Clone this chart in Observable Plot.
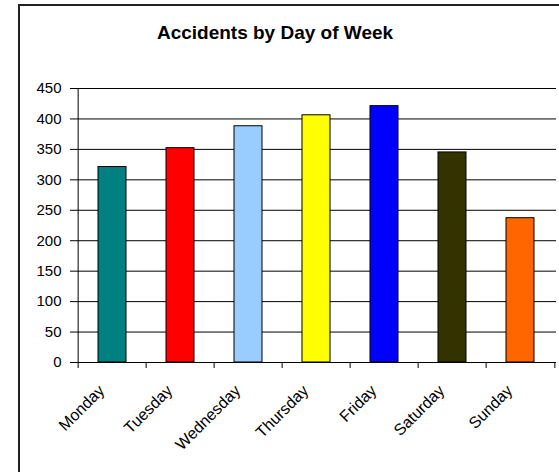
<!DOCTYPE html>
<html><head><meta charset="utf-8">
<script src="https://cdn.jsdelivr.net/npm/d3@7"></script>
<script src="https://cdn.jsdelivr.net/npm/@observablehq/plot@0.6"></script>
<style>
html,body{margin:0;padding:0;background:#fff;}
#wrap{position:relative;width:559px;height:472px;overflow:hidden;font-family:"Liberation Sans",Arial,sans-serif;}
#chart{position:absolute;left:0;top:0;}
#border{position:absolute;left:18px;top:4px;width:700px;height:700px;border-left:2px solid #222;border-top:2px solid #222;box-sizing:border-box;}
#title{position:absolute;left:0;top:23px;width:550px;text-align:center;font-weight:bold;font-size:19px;line-height:19px;color:#000;}
</style></head><body>
<div id="wrap"><div id="chart"></div><div id="border"></div><div id="title"></div></div>
<script>
const title = "Accidents by Day of Week";
const days = ["Monday","Tuesday","Wednesday","Thursday","Friday","Saturday","Sunday"];
const accidents = [321,352,388,406,421,345,237];
const colors = ["#008080","#FF0000","#99CCFF","#FFFF00","#0000FF","#333300","#FF6600"];
const yTicks = [0,50,100,150,200,250,300,350,400,450];

document.getElementById("title").textContent = title;
const data = days.map((d,i)=>({day:d, value:accidents[i], color:colors[i]}));

const W=559, H=472, mL=75, mR=3, mT=88, mB=110;
const step = (W-mL-mR)/days.length;

const chart = Plot.plot({
  width:W, height:H, marginLeft:mL, marginRight:mR, marginTop:mT, marginBottom:mB,
  style:{fontFamily:"'Liberation Sans', Arial, sans-serif", fontSize:"15px", color:"#000", background:"transparent"},
  x:{domain:days, padding:0, axis:null},
  y:{domain:[0,450], axis:null},
  color:{type:"identity"},
  marks:[
    Plot.ruleY(yTicks, {stroke:"#000", strokeWidth:1}),
    Plot.ruleX([days[0]], {dx:-step/2, stroke:"#000"}),
    Plot.ruleX(days, {dx:-step/2, y1:0, y2:0, insetBottom:-6, stroke:"#000"}),
    Plot.ruleX([days[days.length-1]], {dx:step/2, y1:0, y2:0, insetBottom:-6, stroke:"#000"}),
    Plot.barY(data, {x:"day", y:"value", fill:"color", stroke:"#000", strokeWidth:1, insetLeft:20, insetRight:20}),
    Plot.axisY({ticks:yTicks, tickSize:5, tickPadding:9, stroke:"#000", fontSize:15, label:null}),
    Plot.text(days, {x:d=>d, frameAnchor:"bottom", rotate:-45, textAnchor:"end", dx:-7, dy:29, fontSize:16, fill:"#000"})
  ]
});
document.getElementById("chart").appendChild(chart);
</script>
</body></html>
